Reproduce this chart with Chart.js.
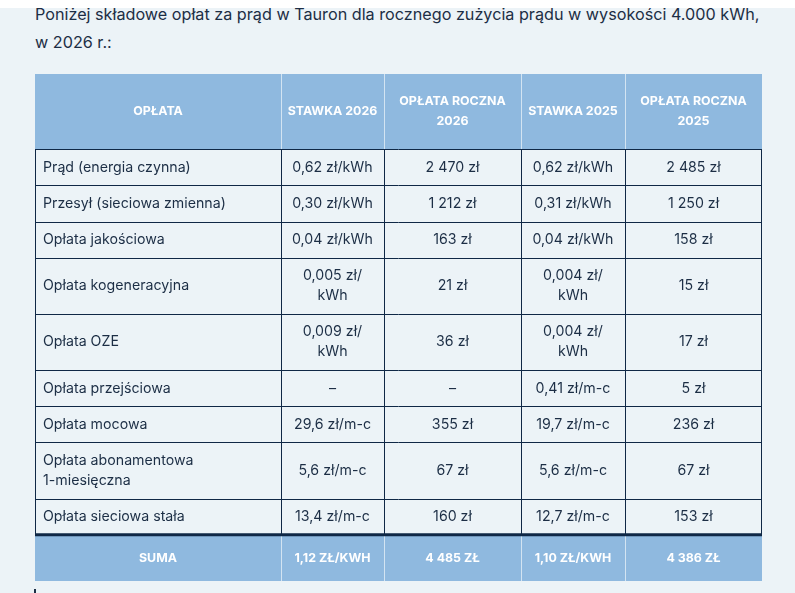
<!DOCTYPE html>
<html lang="pl">
<head>
<meta charset="utf-8">
<title>Opłaty za prąd Tauron 2026</title>
<script src="https://cdn.jsdelivr.net/npm/chart.js@4.4.1/dist/chart.umd.min.js"></script>
<style>
  html, body { margin: 0; padding: 0; }
  body {
    width: 795px; height: 593px; overflow: hidden; position: relative;
    background: #ecf3f7; font-family: Inter, "Noto Sans", sans-serif; color: #1c2e45;
  }
  .pasek { position: absolute; left: 0; top: 0; width: 795px; height: 8px; background: #ffffff; z-index: 2; }
  .wstep {
    position: absolute; left: 35px; top: -0.5px; margin: 0;
    font-size: 16.2px; line-height: 28px; white-space: nowrap;
  }
  #tabela { position: absolute; left: 35px; top: 74px; }
  .znak { position: absolute; left: 34px; top: 589px; width: 2px; height: 4px; background: #1c2e45; }
</style>
</head>
<body>
<div class="pasek"></div>
<p class="wstep">Poniżej składowe opłat za prąd w Tauron dla rocznego zużycia prądu w wysokości 4.000 kWh,<br>w 2026 r.:</p>
<canvas id="tabela" width="727" height="507"></canvas>
<div class="znak"></div>

<script>
// Dane tabeli
const naglowki = ['OPŁATA', 'STAWKA 2026', 'OPŁATA ROCZNA 2026', 'STAWKA 2025', 'OPŁATA ROCZNA 2025'];
const oplaty = [
    'Prąd (energia czynna)',
    'Przesył (sieciowa zmienna)',
    'Opłata jakościowa',
    'Opłata kogeneracyjna',
    'Opłata OZE',
    'Opłata przejściowa',
    'Opłata mocowa',
    'Opłata abonamentowa 1-miesięczna',
    'Opłata sieciowa stała'
];
const stawka2026 = ['0,62 zł/kWh', '0,30 zł/kWh', '0,04 zł/kWh', '0,005 zł/kWh', '0,009 zł/kWh', '–', '29,6 zł/m-c', '5,6 zł/m-c', '13,4 zł/m-c'];
const roczna2026 = ['2 470 zł', '1 212 zł', '163 zł', '21 zł', '36 zł', '–', '355 zł', '67 zł', '160 zł'];
const stawka2025 = ['0,62 zł/kWh', '0,31 zł/kWh', '0,04 zł/kWh', '0,004 zł/kWh', '0,004 zł/kWh', '0,41 zł/m-c', '19,7 zł/m-c', '5,6 zł/m-c', '12,7 zł/m-c'];
const roczna2025 = ['2 485 zł', '1 250 zł', '158 zł', '15 zł', '17 zł', '5 zł', '236 zł', '67 zł', '153 zł'];
const suma = ['SUMA', '1,12 zł/kWh', '4 485 zł', '1,10 zł/kWh', '4 386 zł'];

// Wygląd
const szerokosciKolumn = [246, 103, 137, 104, 137];
const FONT_BODY = '14.2px Inter, "Noto Sans", sans-serif';
const FONT_HEAD = 'bold 12.4px Inter, "Noto Sans", sans-serif';
const KOLOR_TLA = '#ecf3f7';
const KOLOR_NAGLOWKA = '#8fb9df';
const KOLOR_RAMKI = '#0f2846';
const KOLOR_TEKSTU = '#1c2e45';
const KOLOR_JASNEJ_LINII = '#d3e4f2';
const WYS_LINII = 20;
const PAD_BODY = 9;
const PAD_HEAD = 5;

// Łamanie tekstu po spacjach i po "/"
function lamTekst(ctx, tekst, maxSzer) {
    const kawalki = tekst.split(/(?<=[ \/])/);
    const linie = [];
    let biezaca = '';
    kawalki.forEach(k => {
        const proba = biezaca + k;
        if (biezaca && ctx.measureText(proba.trim()).width > maxSzer) {
            linie.push(biezaca.trim());
            biezaca = k;
        } else {
            biezaca = proba;
        }
    });
    if (biezaca) linie.push(biezaca.trim());
    return linie;
}

// Przygotowanie wierszy (tekst + liczba linii)
const pomiar = document.createElement('canvas').getContext('2d');

function przygotujWiersz(komorki, font, padX) {
    pomiar.font = font;
    return komorki.map((t, i) => lamTekst(pomiar, t, szerokosciKolumn[i] - 2 * padX));
}

const wierszNaglowka = przygotujWiersz(naglowki, FONT_HEAD, PAD_HEAD);
const wierszeDanych = oplaty.map((o, i) =>
    przygotujWiersz([o, stawka2026[i], roczna2026[i], stawka2025[i], roczna2025[i]], FONT_BODY, PAD_BODY));
const wierszSumy = przygotujWiersz(suma.map(s => s.toUpperCase()), FONT_HEAD, PAD_HEAD);

const maxLinii = w => Math.max(...w.map(c => c.length));
const wysNaglowka = maxLinii(wierszNaglowka) * WYS_LINII + 35;
const wysDanych = wierszeDanych.map(w => maxLinii(w) * WYS_LINII + 16);
const wysSumy = 46;

// Granice wierszy w jednostkach osi Y
const granice = [0, wysNaglowka];
wysDanych.forEach(h => granice.push(granice[granice.length - 1] + h));
granice.push(granice[granice.length - 1] + wysSumy);
const wysTabeli = granice[granice.length - 1];

const graniceKolumn = [0];
szerokosciKolumn.forEach(w => graniceKolumn.push(graniceKolumn[graniceKolumn.length - 1] + w));
const szerTabeli = graniceKolumn[graniceKolumn.length - 1];

// Rysowanie komórki tekstowej
function rysujTekst(ctx, linie, x0, x1, y0, y1, wyrownanie, padX) {
    const srodekY = (y0 + y1) / 2;
    const startY = srodekY - (linie.length - 1) * WYS_LINII / 2;
    ctx.textAlign = wyrownanie;
    ctx.textBaseline = 'middle';
    const x = wyrownanie === 'left' ? x0 + padX - 1 : (x0 + x1) / 2;
    linie.forEach((l, i) => ctx.fillText(l, x, startY + i * WYS_LINII));
}

const tabelaPlugin = {
    id: 'tabela',
    afterDraw(chart) {
        const { ctx, scales: { x, y } } = chart;
        const px = v => x.getPixelForValue(v);
        const py = v => y.getPixelForValue(v);
        ctx.save();

        // tło
        ctx.fillStyle = KOLOR_TLA;
        ctx.fillRect(px(0), py(0), px(szerTabeli) - px(0), py(wysTabeli) - py(0));

        // nagłówek i suma
        const ostatni = granice.length - 1;
        ctx.fillStyle = KOLOR_NAGLOWKA;
        ctx.fillRect(px(0), py(granice[0]), px(szerTabeli) - px(0), py(granice[1]) - py(granice[0]));
        ctx.fillRect(px(0), py(granice[ostatni - 1]), px(szerTabeli) - px(0), py(granice[ostatni]) - py(granice[ostatni - 1]));

        // jasne linie pionowe w nagłówku i sumie
        ctx.strokeStyle = KOLOR_JASNEJ_LINII;
        ctx.lineWidth = 1;
        for (let c = 1; c < graniceKolumn.length - 1; c++) {
            const xx = Math.round(px(graniceKolumn[c])) + 0.5;
            ctx.beginPath();
            ctx.moveTo(xx, py(granice[0]));
            ctx.lineTo(xx, py(granice[1]));
            ctx.moveTo(xx, py(granice[ostatni - 1]));
            ctx.lineTo(xx, py(granice[ostatni]));
            ctx.stroke();
        }

        // ramki części z danymi
        ctx.strokeStyle = KOLOR_RAMKI;
        ctx.lineWidth = 1;
        const gora = py(granice[1]);
        const dol = py(granice[ostatni - 1]);
        for (let c = 0; c < graniceKolumn.length; c++) {
            let xx = Math.round(px(graniceKolumn[c])) + 0.5;
            if (c === graniceKolumn.length - 1) xx -= 1;
            ctx.beginPath();
            ctx.moveTo(xx, gora);
            ctx.lineTo(xx, dol);
            ctx.stroke();
        }
        for (let r = 1; r < ostatni - 1; r++) {
            const yy = Math.round(py(granice[r])) + 0.5;
            ctx.beginPath();
            ctx.moveTo(px(0), yy);
            ctx.lineTo(px(szerTabeli), yy);
            ctx.stroke();
        }
        // gruba linia nad sumą
        ctx.lineWidth = 3;
        ctx.beginPath();
        ctx.moveTo(px(0), dol);
        ctx.lineTo(px(szerTabeli), dol);
        ctx.stroke();

        // teksty nagłówka
        ctx.fillStyle = '#ffffff';
        ctx.font = FONT_HEAD;
        wierszNaglowka.forEach((linie, c) =>
            rysujTekst(ctx, linie, px(graniceKolumn[c]), px(graniceKolumn[c + 1]), py(granice[0]), py(granice[1]), 'center', PAD_HEAD));

        // teksty danych
        ctx.fillStyle = KOLOR_TEKSTU;
        ctx.font = FONT_BODY;
        wierszeDanych.forEach((wiersz, r) => {
            wiersz.forEach((linie, c) =>
                rysujTekst(ctx, linie, px(graniceKolumn[c]), px(graniceKolumn[c + 1]),
                    py(granice[r + 1]), py(granice[r + 2]), c === 0 ? 'left' : 'center', PAD_BODY));
        });

        // teksty sumy
        ctx.fillStyle = '#ffffff';
        ctx.font = FONT_HEAD;
        wierszSumy.forEach((linie, c) =>
            rysujTekst(ctx, linie, px(graniceKolumn[c]), px(graniceKolumn[c + 1]),
                py(granice[ostatni - 1]) + 1, py(granice[ostatni]), 'center', PAD_HEAD));

        ctx.restore();
    }
};

const canvas = document.getElementById('tabela');

new Chart(canvas, {
    type: 'scatter',
    data: { datasets: [] },
    options: {
        responsive: false,
        animation: false,
        devicePixelRatio: 1,
        layout: { padding: 0 },
        plugins: {
            legend: { display: false },
            tooltip: { enabled: false }
        },
        scales: {
            x: { type: 'linear', min: 0, max: szerTabeli, offset: false, display: false },
            y: { type: 'linear', min: 0, max: wysTabeli, offset: false, reverse: true, display: false }
        }
    },
    plugins: [tabelaPlugin]
});
</script>
</body>
</html>
